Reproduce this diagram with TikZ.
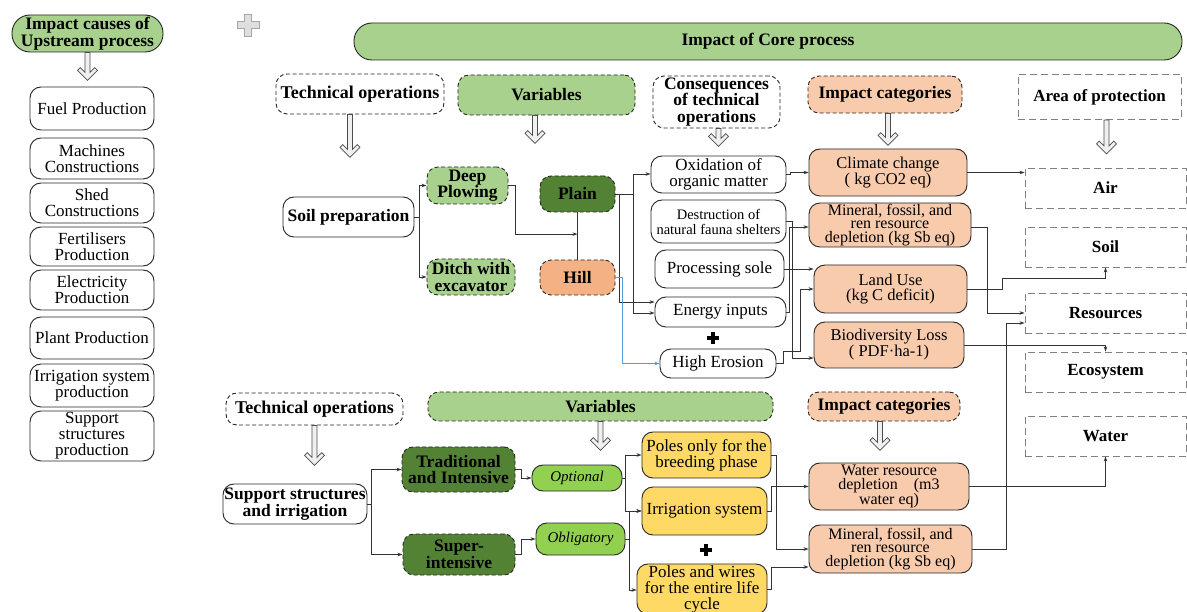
\documentclass[tikz,border=0pt]{standalone}
\usepackage{fontspec}
\setmainfont{Liberation Serif}
\usetikzlibrary{arrows.meta,calc}
\newcommand\fsz[2]{\fontsize{#1}{#2}\selectfont}

\definecolor{lgreen}{HTML}{A9D18E}
\definecolor{dgreen}{HTML}{548235}
\definecolor{bgreen}{HTML}{92D050}
\definecolor{peach}{HTML}{F8CBAD}
\definecolor{hillc}{HTML}{F4B183}
\definecolor{gold}{HTML}{FFD966}
\definecolor{linkblue}{HTML}{5B9BD5}

\begin{document}
\begin{tikzpicture}[x=1pt,y=-1pt,
  box/.style={draw=black!85,line width=0.9pt,rounded corners=11pt,align=center,inner sep=0pt,fill=white,font=\fsz{17}{16}},
  dbox/.style={box,dash pattern=on 4pt off 2.5pt},
  bold/.style={font=\fsz{17.5}{16.5}\bfseries},
  cat/.style={box,fill=peach,font=\fsz{16.5}{15}},
  cat3/.style={box,fill=peach,font=\fsz{16}{13.8}},
  prot/.style={draw=black!50,line width=0.9pt,dash pattern=on 7pt off 4pt,inner sep=0pt,fill=white,font=\fsz{17}{16}\bfseries},
  conn/.style={draw=black!80,line width=0.8pt,-{Stealth[length=5pt,width=3.5pt]}},
  link/.style={draw=black!80,line width=0.8pt},
  harrow/.pic={
    \draw[draw=gray!60!black,fill=gray!12,line width=0.7pt,line join=miter]
      (-2.5,0) -- (-2.5,#1-8) -- (-7.25,#1-12.75) -- (-10,#1-10) -- (0,#1)
      -- (10,#1-10) -- (7.25,#1-12.75) -- (2.5,#1-8) -- (2.5,0) -- cycle;
  }
]
\useasboundingbox (0,0) rectangle (1187,612);
\fill[white] (0,0) rectangle (1187,612);

% ---------- upstream column ----------
\node[box,bold,fill=lgreen,rounded corners=18pt,minimum width=151,minimum height=37] (up) at (87.5,33.5) {Impact causes of\\Upstream process};
\pic at (up.south) {harrow=28};
\node[box,minimum width=124,minimum height=43] (fuel)  at (92,108.5) {Fuel Production};
\node[box,minimum width=124,minimum height=41] (mach)  at (92,158.5) {Machines\\Constructions};
\node[box,minimum width=124,minimum height=40] (shed)  at (92,203)   {Shed\\Constructions};
\node[box,minimum width=124,minimum height=39] (fert)  at (92,246.5) {Fertilisers\\Production};
\node[box,minimum width=124,minimum height=40] (elec)  at (92,290)   {Electricity\\Production};
\node[box,minimum width=124,minimum height=42] (plant) at (92,338)   {Plant Production};
\node[box,minimum width=124,minimum height=43] (irrp)  at (92,385.5) {Irrigation system\\production};
\node[box,minimum width=124,minimum height=50] (supp)  at (92,436)   {Support\\structures\\production};

% grey plus
\draw[draw=gray!70,fill=gray!25,line width=0.8pt]
  (244.5,14) -- (251.5,14) -- (251.5,21.5) -- (259,21.5) -- (259,28.5) -- (251.5,28.5)
  -- (251.5,36) -- (244.5,36) -- (244.5,28.5) -- (237,28.5) -- (237,21.5) -- (244.5,21.5) -- cycle;

% ---------- core process ----------
\node[box,bold,fill=lgreen,rounded corners=18pt,minimum width=828,minimum height=37] (core) at (768,41.5)
  {Impact of Core process};

% headers (upper)
\node[dbox,bold,font=\fsz{18}{17}\bfseries,minimum width=168,minimum height=40] (to1) at (360,94) {Technical operations};
\node[dbox,bold,fill=lgreen,minimum width=177,minimum height=40] (var1) at (546.5,95) {Variables};
\node[dbox,bold,font=\fsz{17.5}{16.5}\bfseries,minimum width=127,minimum height=52] (cons) at (716.5,102) {Consequences\\of technical\\operations};
\node[dbox,bold,fill=peach,minimum width=154,minimum height=37] (ic1) at (885,94.5) {Impact categories};
\node[prot,minimum width=163,minimum height=45] (aop) at (1099.5,97) {Area of protection};

\pic at ([xshift=-10pt]to1.south) {harrow=43};
\pic at ([xshift=-11.5pt]var1.south) {harrow=28};
\pic at ([xshift=2pt]cons.south) {harrow=18};
\pic at ([xshift=3pt]ic1.south) {harrow=32};
\pic at ([xshift=7pt]aop.south) {harrow=34};

% upper process nodes
\node[box,bold,minimum width=131,minimum height=40] (soil) at (348.5,217) {Soil preparation};
\node[dbox,bold,fill=lgreen,minimum width=81,minimum height=37] (deep) at (467.5,185.5) {Deep\\Plowing};
\node[dbox,bold,fill=lgreen,minimum width=88,minimum height=36] (ditch) at (471,277) {Ditch with\\excavator};
\node[dbox,bold,fill=dgreen,minimum width=75,minimum height=36] (plain) at (577.5,194) {Plain};
\node[dbox,bold,fill=hillc,minimum width=75,minimum height=35] (hill) at (577.5,277.5) {Hill};

\node[box,minimum width=135,minimum height=37] (oxid) at (718.5,174.5) {Oxidation of\\organic matter};
\node[box,font=\fsz{14.5}{15},minimum width=135,minimum height=43] (destr) at (718.5,221.5) {Destruction of\\natural fauna shelters};
\node[box,minimum width=129,minimum height=38] (psole) at (719.5,269) {Processing sole};
\node[box,minimum width=131,minimum height=30] (energy) at (720.5,312) {Energy inputs};
\node[box,minimum width=116,minimum height=29] (erosion) at (718,363.5) {High Erosion};
\draw[line width=3.5pt] (707,338) -- (719,338) (713,332) -- (713,344);

\node[cat,minimum width=158,minimum height=47] (cc) at (888,172.5) {Climate change\\( kg CO2 eq)};
\node[cat3,minimum width=162,minimum height=44] (mf1) at (890,225) {Mineral, fossil, and\\ren resource\\depletion (kg Sb eq)};
\node[cat,minimum width=153,minimum height=48] (lu) at (890.5,289) {Land Use\\(kg C deficit)};
\node[cat,minimum width=150,minimum height=46] (bl) at (889,345) {Biodiversity Loss\\( PDF·ha-1)};

\node[prot,minimum width=161,minimum height=40] (air)   at (1105.5,188) {Air};
\node[prot,minimum width=161,minimum height=40] (soilp) at (1105.5,247) {Soil};
\node[prot,minimum width=161,minimum height=40] (res)   at (1105.5,313) {Resources};
\node[prot,minimum width=161,minimum height=40] (eco)   at (1105.5,372) {Ecosystem};
\node[prot,minimum width=161,minimum height=40] (water) at (1105.5,436) {Water};

% upper connectors
\draw[conn] (soil.east) -- ++(5,0) |- (deep.west);
\draw[conn] (soil.east) -- ++(5,0) |- (ditch.west);
\coordinate (ph) at ($(plain.south)!0.46!(hill.north)$);
\draw[link] (plain.south) -- (hill.north);
\draw[conn] (deep.east) -- ++(7,0) |- (ph);
\draw[conn] (plain.east) -- ++(18,0) |- ([yshift=0.5pt]oxid.west);
\draw[conn] (plain.east) -- ++(18,0) |- ([yshift=-1pt]energy.west);
\draw[conn] (plain.east) -- ++(4,0) |- ([yshift=10pt]energy.west);
\draw[conn,draw=linkblue,line width=0.6pt] (hill.east) -- ++(7,0) |- (erosion.west);
\draw[conn] (oxid.east) -- ++(4,0) |- (cc.west);
\draw[conn] (cc.east) -- (cc.east -| air.west);
\draw[conn] (destr.east) -- ++(6,0) |- ([yshift=-13pt]bl.west);
\draw[conn] (energy.east) -- ++(3,0) |- ([yshift=-2pt]mf1.west);
\draw[conn] (psole.east) -- (psole.east -| lu.west);
\draw[conn] (erosion.east) -- ++(7,0) -- ++(0,-12) -- ++(17,0) |- (lu.west);
\draw[conn] ([yshift=-2pt]mf1.east) -- ++(16,0) |- (res.west);
\draw[conn] (lu.east) -- ++(35,0) -- ++(0,-11) -| (soilp.south);
\draw[conn] (bl.east) -| (eco.north);

% ---------- lower block ----------
\node[dbox,bold,font=\fsz{18}{17}\bfseries,minimum width=177,minimum height=32] (to2) at (314.5,409) {Technical operations};
\node[dbox,bold,fill=lgreen,minimum width=345,minimum height=29] (var2) at (600.5,406.5) {Variables};
\node[dbox,bold,fill=peach,minimum width=152,minimum height=29] (ic2) at (884,406.5) {Impact categories};
\pic at (to2.south) {harrow=40};
\pic at (var2.south) {harrow=29};
\pic at ([xshift=-4pt]ic2.south) {harrow=29};

\node[box,bold,minimum width=144,minimum height=40] (sup) at (295,504) {Support structures\\and irrigation};
\node[dbox,bold,fill=dgreen,minimum width=113,minimum height=45] (trad) at (458.5,469.5) {Traditional\\and Intensive};
\node[dbox,bold,fill=dgreen,minimum width=112,minimum height=41] (super) at (459,554.5) {Super-\\intensive};
\node[box,fill=bgreen,font=\fsz{15}{15}\itshape,minimum width=90,minimum height=26] (opt) at (577,478) {Optional};
\node[box,fill=bgreen,font=\fsz{15}{15}\itshape,minimum width=89,minimum height=32] (obl) at (580.5,539) {Obligatory};

\node[box,fill=gold,minimum width=129,minimum height=46] (pol1) at (706.5,455) {Poles only for the\\breeding phase};
\node[box,fill=gold,minimum width=125,minimum height=48] (irr) at (704.5,511) {Irrigation system};
\node[box,fill=gold,minimum width=130,minimum height=50] (pol2) at (702,589) {Poles and wires\\for the entire life\\cycle};
\draw[line width=3.5pt] (700,550) -- (712,550) (706,544) -- (706,556);

\node[cat3,minimum width=160,minimum height=47] (wrd) at (889,486.5) {Water resource\\depletion \ \ \ (m3\\water eq)};
\node[cat3,minimum width=163,minimum height=48] (mf2) at (890.5,549) {Mineral, fossil, and\\ren resource\\depletion (kg Sb eq)};

% lower connectors
\draw[conn] (sup.east) -- ++(4,0) |- (trad.west);
\draw[conn] (sup.east) -- ++(4,0) |- (super.west);
\draw[conn] (trad.east) -- ++(6,0) |- (opt.west);
\draw[conn] (super.east) -- ++(6,0) |- (obl.west);
\draw[conn] (opt.east) -- ++(3,0) |- (pol1.west);
\draw[conn] (opt.east) -- ++(3,0) |- (irr.west);
\draw[conn] (obl.east) -- ++(4,0) |- (irr.west);
\draw[conn] (obl.east) -- ++(4,0) |- ([yshift=-1pt]pol2.west);
\draw[conn] (pol1.east) -- ++(5,0) |- (mf2.west);
\draw[conn] (irr.east) -- ++(4,0) |- (wrd.west);
\draw[conn] (pol2.east) -- ++(4,0) |- ([yshift=-18pt]mf2.west);
\draw[conn] (wrd.east) -| (water.south);
\draw[conn] (mf2.east) -- ++(34,0) |- ([yshift=-10pt]res.west);
\end{tikzpicture}
\end{document}
